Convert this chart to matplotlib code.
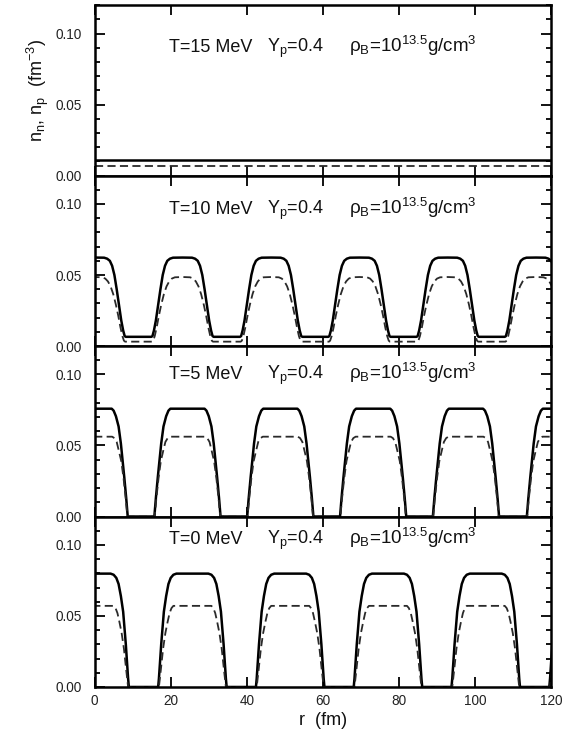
import numpy as np
import matplotlib
matplotlib.use('Agg')
import matplotlib.pyplot as plt
from matplotlib.ticker import MultipleLocator, FormatStrFormatter

plt.rcParams['font.family'] = ['Liberation Sans', 'DejaVu Sans']
plt.rcParams['mathtext.fontset'] = 'custom'
plt.rcParams['mathtext.rm'] = 'Liberation Sans'
plt.rcParams['mathtext.it'] = 'Liberation Sans'
plt.rcParams['mathtext.bf'] = 'Liberation Sans:bold'

# ---- Data ----
temperatures = [15, 10, 5, 0]          # MeV, panels top to bottom

# T = 15 MeV: uniform matter, flat densities (fm^-3)
r_uniform = [0.0, 120.0]
nn_T15 = [0.0111, 0.0111]
np_T15 = [0.0071, 0.0071]

# slab centres (fm) seen in each panel
centres_T10 = [0.0, 23.1, 46.4, 69.6, 92.8, 116.0]
centres_T5 = [0.0, 24.4, 48.8, 73.2, 97.6, 122.3]
centres_T0 = [0.0, 25.7, 51.4, 77.1, 102.8, 128.5]

# half profile of one slab: distance from its centre (fm) and density (fm^-3)
d_nn_T10 = [0.0, 2.5, 3.3, 4.0, 4.6, 5.2, 5.8, 6.4, 7.0, 7.5, 7.9, 8.2]
nn_T10 = [0.0623, 0.0622, 0.0615, 0.0600, 0.0565, 0.0500, 0.0400, 0.0290, 0.0180, 0.0110, 0.0070, 0.0065]
d_np_T10 = [0.0, 2.0, 2.8, 3.5, 4.2, 4.9, 5.6, 6.2, 6.8, 7.3, 7.7, 8.0]
np_T10 = [0.0486, 0.0484, 0.0475, 0.0455, 0.0420, 0.0365, 0.0290, 0.0215, 0.0130, 0.0070, 0.0038, 0.0031]

d_nn_T5 = [0.0, 4.5, 5.0, 5.6, 6.3, 6.9, 7.8, 8.3, 8.7]
nn_T5 = [0.0759, 0.0759, 0.0745, 0.0706, 0.0634, 0.0514, 0.0275, 0.0130, 0.0]
d_np_T5 = [0.0, 4.6, 5.2, 5.8, 6.3, 7.0, 7.6, 8.2, 8.6]
np_T5 = [0.0562, 0.0562, 0.0552, 0.0525, 0.0470, 0.0390, 0.0270, 0.0120, 0.0]

d_nn_T0 = [0.0, 4.2, 5.0, 5.7, 6.3, 6.9, 7.5, 8.2, 8.8, 9.0]
nn_T0 = [0.0798, 0.0798, 0.0790, 0.0768, 0.0725, 0.0640, 0.0530, 0.0300, 0.0060, 0.0]
d_np_T0 = [0.0, 5.0, 5.5, 6.0, 6.5, 7.1, 7.7, 8.3, 8.8]
np_T0 = [0.0571, 0.0571, 0.0555, 0.0520, 0.0460, 0.0380, 0.0270, 0.0120, 0.0]

# label heights (baseline, fm^-3) of the text line in each panel
label_y = [0.087, 0.093, 0.097, 0.101]


def slab_chain(centres, d, n):
    """Place the measured slab profile (mirrored) at every slab centre."""
    d = np.asarray(d)
    n = np.asarray(n)
    r_one = np.concatenate([-d[:0:-1], d])
    n_one = np.concatenate([n[:0:-1], n])
    r = np.concatenate([c + r_one for c in centres])
    return r, np.tile(n_one, len(centres))


curves = [
    ((r_uniform, nn_T15), (r_uniform, np_T15)),
    (slab_chain(centres_T10, d_nn_T10, nn_T10), slab_chain(centres_T10, d_np_T10, np_T10)),
    (slab_chain(centres_T5, d_nn_T5, nn_T5), slab_chain(centres_T5, d_np_T5, np_T5)),
    (slab_chain(centres_T0, d_nn_T0, nn_T0), slab_chain(centres_T0, d_np_T0, np_T0)),
]

fig, axes = plt.subplots(4, 1, figsize=(5.7, 7.32), dpi=100, sharex=True)
fig.subplots_adjust(left=0.166, right=0.967, top=0.993, bottom=0.0615, hspace=0)

for ax, T, (neut, prot), ly in zip(axes, temperatures, curves, label_y):
    ax.plot(neut[0], neut[1], color='black', lw=1.8, solid_joinstyle='round')
    ax.plot(prot[0], prot[1], color='#2a2a2a', lw=1.3, dashes=(4.5, 2.4))

    ax.set_xlim(0, 120)
    ax.set_ylim(0, 0.12)
    ax.xaxis.set_major_locator(MultipleLocator(20))
    ax.yaxis.set_major_locator(MultipleLocator(0.05))
    ax.yaxis.set_minor_locator(MultipleLocator(0.01))
    ax.yaxis.set_major_formatter(FormatStrFormatter('%.2f'))
    ax.tick_params(which='both', direction='in', top=True, right=True,
                   width=1.3, labelsize=9.8, colors='black', labelcolor='#222222')
    ax.tick_params(which='major', length=7)
    ax.tick_params(which='minor', length=3.6)
    ax.tick_params(axis='y', pad=9)
    ax.tick_params(axis='x', pad=5)
    for sp in ax.spines.values():
        sp.set_linewidth(1.8)

    ax.text(19.5, ly, f'T={T} MeV', fontsize=13, color='#111111')
    ax.text(45.4, ly, r'Y$_p$=0.4', fontsize=13, color='#111111')
    ax.text(66.8, ly, r'ρ$_B$=10$^{13.5}$g/cm$^3$', fontsize=13.5, color='#111111')

axes[0].set_ylabel(r'n$_n$, n$_p$  (fm$^{-3}$)', fontsize=13, color='#111111')
axes[0].yaxis.set_label_coords(-0.095, 0.5)
axes[-1].set_xlabel('r  (fm)', fontsize=13, color='#111111', labelpad=3)

fig.savefig('out.png', dpi=100)
plt.close(fig)
